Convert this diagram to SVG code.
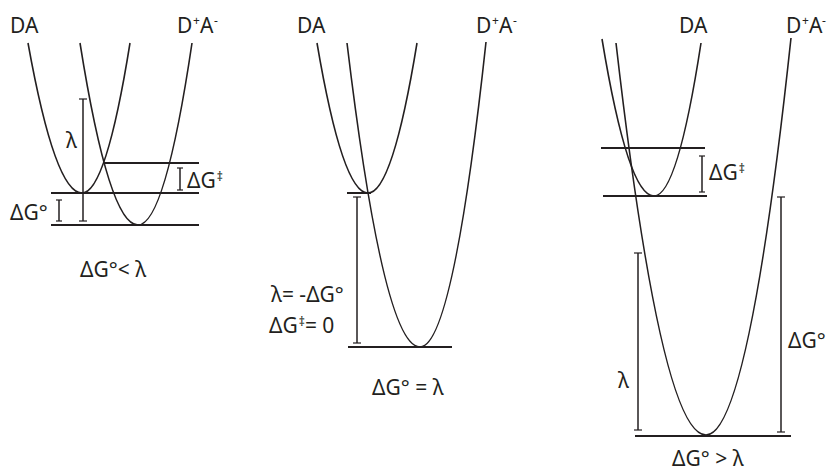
<svg xmlns="http://www.w3.org/2000/svg" width="828" height="473" viewBox="0 0 828 473">
<style>
.bg{fill:#ffffff}
.curve{fill:none;stroke:#231f20;stroke-width:1.6}
.level{fill:none;stroke:#231f20;stroke-width:2}
.bar{fill:none;stroke:#231f20;stroke-width:1.5}
.tick{fill:none;stroke:#231f20;stroke-width:1.2}
text{font-family:"Noto Sans","Open Sans",sans-serif;font-size:21px;fill:#231f20}
.sup{font-size:12px}
</style>
<rect class="bg" x="0" y="0" width="828" height="473"/>

<g id="panel1">
  <g id="p1-curves">
    <path class="curve" d="M28,43 Q55,193 82,193 Q106,193 130,43"/>
    <path class="curve" d="M80,43 Q109,225 138,225 Q165,225 192,43"/>
  </g>
  <g id="p1-levels">
    <line class="level" x1="51" y1="193" x2="199" y2="193"/>
    <line class="level" x1="51" y1="225" x2="199" y2="225"/>
    <line class="level" x1="104" y1="163" x2="199" y2="163"/>
  </g>
  <g id="p1-bars">
    <line class="bar" x1="83" y1="99" x2="83" y2="221"/>
    <line class="tick" x1="79" y1="99" x2="87" y2="99"/>
    <line class="tick" x1="79" y1="221" x2="87" y2="221"/>
    <line class="bar" x1="180" y1="168" x2="180" y2="190"/>
    <line class="tick" x1="177" y1="168" x2="183" y2="168"/>
    <line class="tick" x1="177" y1="190" x2="183" y2="190"/>
    <line class="bar" x1="59" y1="200" x2="59" y2="221"/>
    <line class="tick" x1="56" y1="200" x2="62" y2="200"/>
    <line class="tick" x1="56" y1="221" x2="62" y2="221"/>
  </g>
  <g id="p1-labels">
    <text x="10" y="33">DA</text>
    <text y="33"><tspan x="177">D</tspan><tspan class="sup" x="193" y="25">+</tspan><tspan x="200" y="33">A</tspan><tspan class="sup" x="214" y="25">-</tspan></text>
    <text x="66" y="148">λ</text>
    <text x="187" y="188">ΔG<tspan class="sup" dx="1" dy="-7">‡</tspan></text>
    <text x="10" y="220">ΔG°</text>
    <text x="80" y="277">ΔG°&lt; λ</text>
  </g>
</g>

<g id="panel2">
  <g id="p2-curves">
    <path class="curve" d="M317,43 Q342.5,193 368,193 Q392.5,193 417,43"/>
    <path class="curve" d="M347,43 Q383.5,347 420,347 Q453,347 486,42"/>
  </g>
  <g id="p2-levels">
    <line class="level" x1="347" y1="193" x2="371" y2="193"/>
    <line class="level" x1="348" y1="347" x2="452" y2="347"/>
  </g>
  <g id="p2-bars">
    <line class="bar" x1="357" y1="197" x2="357" y2="343"/>
    <line class="tick" x1="353" y1="197" x2="361" y2="197"/>
    <line class="tick" x1="353" y1="343" x2="361" y2="343"/>
  </g>
  <g id="p2-labels">
    <text x="297" y="33">DA</text>
    <text y="33"><tspan x="476">D</tspan><tspan class="sup" x="492" y="25">+</tspan><tspan x="499" y="33">A</tspan><tspan class="sup" x="513" y="25">-</tspan></text>
    <text x="271" y="302">λ= -ΔG°</text>
    <text x="269" y="333">ΔG<tspan class="sup" dx="1" dy="-7">‡</tspan><tspan dy="7">= 0</tspan></text>
    <text x="372" y="395">ΔG° = λ</text>
  </g>
</g>

<g id="panel3">
  <g id="p3-curves">
    <path class="curve" d="M602,39 Q628,196 654,196 Q677.5,196 701,43"/>
    <path class="curve" d="M616,43 Q661,435 706,435 Q748.5,435 791,38"/>
  </g>
  <g id="p3-levels">
    <line class="level" x1="601" y1="148" x2="705" y2="148"/>
    <line class="level" x1="603" y1="196" x2="707" y2="196"/>
    <line class="level" x1="635" y1="436" x2="791" y2="436"/>
  </g>
  <g id="p3-bars">
    <line class="bar" x1="702" y1="156" x2="702" y2="192"/>
    <line class="tick" x1="699" y1="156" x2="705" y2="156"/>
    <line class="tick" x1="699" y1="192" x2="705" y2="192"/>
    <line class="bar" x1="781" y1="197" x2="781" y2="432"/>
    <line class="tick" x1="777" y1="197" x2="785" y2="197"/>
    <line class="tick" x1="777" y1="432" x2="785" y2="432"/>
    <line class="bar" x1="638" y1="253" x2="638" y2="430"/>
    <line class="tick" x1="634" y1="253" x2="642" y2="253"/>
    <line class="tick" x1="634" y1="430" x2="642" y2="430"/>
  </g>
  <g id="p3-labels">
    <text x="679" y="33">DA</text>
    <text y="33"><tspan x="786">D</tspan><tspan class="sup" x="802" y="25">+</tspan><tspan x="809" y="33">A</tspan><tspan class="sup" x="822" y="25">-</tspan></text>
    <text x="709" y="180">ΔG<tspan class="sup" dx="1" dy="-7">‡</tspan></text>
    <text x="788" y="348">ΔG°</text>
    <text x="618" y="388">λ</text>
    <text x="672" y="466">ΔG° &gt; λ</text>
  </g>
</g>
</svg>
